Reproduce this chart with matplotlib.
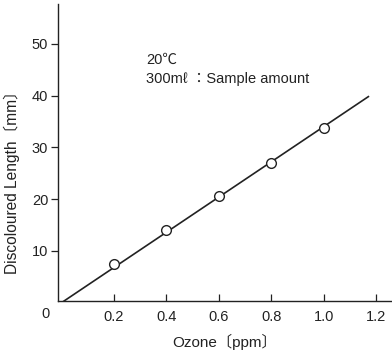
import matplotlib.pyplot as plt

plt.rcParams['font.family'] = ['Liberation Sans', 'Noto Sans CJK JP', 'DejaVu Sans']

# measured points
ozone = [0.2, 0.4, 0.6, 0.8, 1.0]
length = [7.4, 14.0, 20.6, 27.0, 33.7]
# calibration line
fit_x = [0.0, 1.17]
fit_y = [0.0, 39.8]

xticks = [0.2, 0.4, 0.6, 0.8, 1.0, 1.2]
xtick_labels = ["0.2", "0.4", "0.6", "0.8", "1.0", "1.2"]
yticks = [10, 20, 30, 40, 50]

INK = "#222222"

fig = plt.figure(figsize=(3.92, 3.55), dpi=100)
ax = fig.add_axes([0.148, 0.153, 0.852, 0.836])

ax.plot(fit_x, fit_y, color=INK, lw=1.2, zorder=2)
ax.plot(ozone, length, "o", ms=7, mfc="white", mec=INK, mew=1.0, zorder=3)

ax.set_xlim(-0.013, 1.26)
ax.set_ylim(0.4, 57.7)
ax.set_xticks(xticks)
ax.set_xticklabels(xtick_labels)
ax.set_yticks(yticks)
ax.tick_params(axis="x", direction="in", length=5, width=0.9, pad=7, labelsize=10.5, colors=INK)
ax.tick_params(axis="y", direction="out", length=5, width=0.9, pad=2, labelsize=10.5, colors=INK)

for s in ("top", "right"):
    ax.spines[s].set_visible(False)
for s in ("left", "bottom"):
    ax.spines[s].set_linewidth(1.0)
    ax.spines[s].set_color(INK)

fig.text(46 / 392, 1 - 314 / 355, "0", fontsize=10.5, ha="center", va="center", color=INK)

ax.set_xlabel("Ozone〔ppm〕", fontsize=11, labelpad=7, color=INK)
ax.set_ylabel("Discoloured Length〔mm〕", fontsize=11.2, color=INK, va="center")
# label sits below the axis centre in the original
ax.yaxis.set_label_coords(-0.138, 0.41)

ax.text(0.322, 46.9, "20℃", fontsize=10.5, va="center", ha="left", color=INK)
ax.text(0.322, 43.2, "300mℓ ：Sample amount", fontsize=10.5, va="center", ha="left", color=INK)

fig.savefig("out.png", dpi=100)
